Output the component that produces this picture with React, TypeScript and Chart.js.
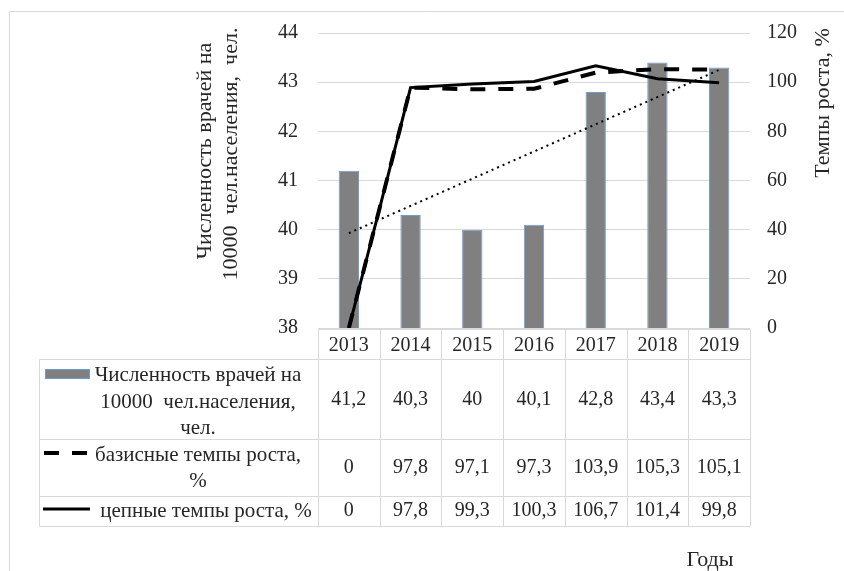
import React, { useEffect, useRef } from "react";
import { Chart, registerables } from "chart.js";

Chart.register(...registerables);

const years = ["2013", "2014", "2015", "2016", "2017", "2018", "2019"];
const doctors = [41.2, 40.3, 40, 40.1, 42.8, 43.4, 43.3];
const baseGrowth = [0, 97.8, 97.1, 97.3, 103.9, 105.3, 105.1];
const chainGrowth = [0, 97.8, 99.3, 100.3, 106.7, 101.4, 99.8];
const trend = [39.93, null, null, null, null, null, 43.25];

const rowLabels = [
  ["Численность врачей на", "10000  чел.населения,", "чел."],
  ["базисные темпы роста,", "%"],
  ["цепные темпы роста, %"],
];
const leftTitle = ["Численность врачей на", "10000  чел.населения,  чел."];
const rightTitle = "Темпы роста, %";
const xTitle = "Годы";

const FONT = "'Liberation Serif', 'Times New Roman', serif";
const TEXT = "#262626";
const GRID = "#d9d9d9";
const BAR_FILL = "#808080";
const BAR_BORDER = "#6f9ad6";

const fmt = (v: number) => String(v).replace(".", ",");

const tablePlugin = {
  id: "tablePlugin",
  afterDraw(chart: any) {
    const ctx = chart.ctx as CanvasRenderingContext2D;
    const x = chart.scales.x;
    const ca = chart.chartArea;
    const n = years.length;
    const half = (x.getPixelForValue(1) - x.getPixelForValue(0)) / 2;
    const colEdges: number[] = [];
    for (let i = 0; i < n; i++) colEdges.push(x.getPixelForValue(i) - half);
    colEdges.push(x.getPixelForValue(n - 1) + half);

    const tableLeft = 39;
    const rowsY = [ca.bottom + 1, 359, 439, 496, 526];

    ctx.save();
    // outer chart border
    ctx.strokeStyle = GRID;
    ctx.lineWidth = 1;
    ctx.beginPath();
    ctx.moveTo(9.5, 600);
    ctx.lineTo(9.5, 11.5);
    ctx.lineTo(900, 11.5);
    ctx.stroke();

    // table grid
    ctx.beginPath();
    const L = (x1: number, y1: number, x2: number, y2: number) => {
      ctx.moveTo(Math.round(x1) + 0.5, Math.round(y1) + 0.5);
      ctx.lineTo(Math.round(x2) + 0.5, Math.round(y2) + 0.5);
    };
    L(colEdges[0], rowsY[0], colEdges[n], rowsY[0]);
    for (let r = 1; r < rowsY.length; r++) L(tableLeft, rowsY[r], colEdges[n], rowsY[r]);
    L(tableLeft, rowsY[1], tableLeft, rowsY[4]);
    for (let i = 0; i <= n; i++) L(colEdges[i], rowsY[0], colEdges[i], rowsY[4]);
    ctx.stroke();

    // values
    ctx.fillStyle = TEXT;
    ctx.font = `20px ${FONT}`;
    ctx.textAlign = "center";
    ctx.textBaseline = "middle";
    const series = [doctors, baseGrowth, chainGrowth];
    const valueY = [400, 468, 511];
    series.forEach((s, r) => {
      s.forEach((v, i) => {
        ctx.fillText(fmt(v), x.getPixelForValue(i), valueY[r]);
      });
    });

    // row labels
    ctx.font = `21px ${FONT}`;
    const labelX = [198, 198, 206];
    const labelY = [[375, 402, 428], [455, 481], [511]];
    rowLabels.forEach((lines, r) => {
      lines.forEach((t, k) => ctx.fillText(t, labelX[r], labelY[r][k]));
    });

    // legend keys
    ctx.fillStyle = BAR_FILL;
    ctx.fillRect(45, 369, 45, 10);
    ctx.strokeStyle = BAR_BORDER;
    ctx.lineWidth = 1;
    ctx.strokeRect(45.5, 369.5, 44, 9);

    ctx.strokeStyle = "#000";
    ctx.lineWidth = 4;
    ctx.setLineDash([15, 13]);
    ctx.beginPath();
    ctx.moveTo(44, 453);
    ctx.lineTo(90, 453);
    ctx.stroke();
    ctx.setLineDash([]);
    ctx.lineWidth = 3;
    ctx.beginPath();
    ctx.moveTo(43, 509);
    ctx.lineTo(90, 509);
    ctx.stroke();

    // axis titles
    ctx.fillStyle = TEXT;
    ctx.font = `22px ${FONT}`;
    ctx.textAlign = "center";
    ctx.textBaseline = "middle";
    ctx.save();
    ctx.translate(205, 151);
    ctx.rotate(-Math.PI / 2);
    ctx.fillText(leftTitle[0], 0, 0);
    ctx.restore();
    ctx.save();
    ctx.translate(231, 154);
    ctx.rotate(-Math.PI / 2);
    ctx.fillText(leftTitle[1], 0, 0);
    ctx.restore();
    ctx.save();
    ctx.translate(823, 103);
    ctx.rotate(-Math.PI / 2);
    ctx.fillText(rightTitle, 0, 0);
    ctx.restore();
    ctx.fillText(xTitle, 710, 560);
    ctx.restore();
  },
};

export default function App() {
  const ref = useRef<HTMLCanvasElement | null>(null);
  useEffect(() => {
    if (!ref.current) return;
    const chart = new Chart(ref.current, {
      type: "bar",
      data: {
        labels: years,
        datasets: [
          {
            type: "line",
            label: "trend",
            data: trend,
            yAxisID: "y",
            borderColor: "#000",
            borderWidth: 2,
            borderDash: [2, 4],
            pointRadius: 0,
            spanGaps: true,
            order: 0,
          } as any,
          {
            type: "line",
            label: "базисные темпы роста, %",
            data: baseGrowth,
            yAxisID: "y1",
            borderColor: "#000",
            borderWidth: 4,
            borderDash: [15, 13],
            pointRadius: 0,
            order: 1,
          },
          {
            type: "line",
            label: "цепные темпы роста, %",
            data: chainGrowth,
            yAxisID: "y1",
            borderColor: "#000",
            borderWidth: 3,
            pointRadius: 0,
            order: 2,
          },
          {
            type: "bar",
            label: "Численность врачей на 10000 чел.населения, чел.",
            data: doctors,
            yAxisID: "y",
            backgroundColor: BAR_FILL,
            borderColor: BAR_BORDER,
            borderWidth: 1,
            categoryPercentage: 1,
            barPercentage: 0.33,
            order: 3,
          },
        ],
      },
      options: {
        responsive: false,
        animation: false,
        layout: { padding: { left: 0, right: 0, top: 33, bottom: 0 } },
        plugins: { legend: { display: false }, tooltip: { enabled: false }, title: { display: false } },
        scales: {
          x: {
            grid: { display: false },
            border: { display: false },
            ticks: { font: { family: FONT, size: 20 }, color: TEXT, padding: -2, maxRotation: 0 },
            afterFit: (s: any) => {
              s.height = 243;
            },
          },
          y: {
            position: "left",
            min: 38,
            max: 44,
            ticks: { stepSize: 1, font: { family: FONT, size: 20 }, color: TEXT, padding: 20 },
            grid: { color: GRID, drawTicks: false },
            border: { display: false },
            afterFit: (s: any) => {
              s.width = 318;
            },
          },
          y1: {
            position: "right",
            min: 0,
            max: 120,
            ticks: { stepSize: 20, font: { family: FONT, size: 20 }, color: TEXT, padding: 17 },
            grid: { display: false, drawTicks: false },
            border: { display: false },
            afterFit: (s: any) => {
              s.width = 94;
            },
          },
        },
      },
      plugins: [tablePlugin],
    });
    return () => chart.destroy();
  }, []);
  return (
    <div style={{ position: "absolute", left: 0, top: 0, width: 844, height: 571, background: "#fff" }}>
      <canvas ref={ref} width={844} height={571} style={{ display: "block", width: 844, height: 571 }} />
    </div>
  );
}
